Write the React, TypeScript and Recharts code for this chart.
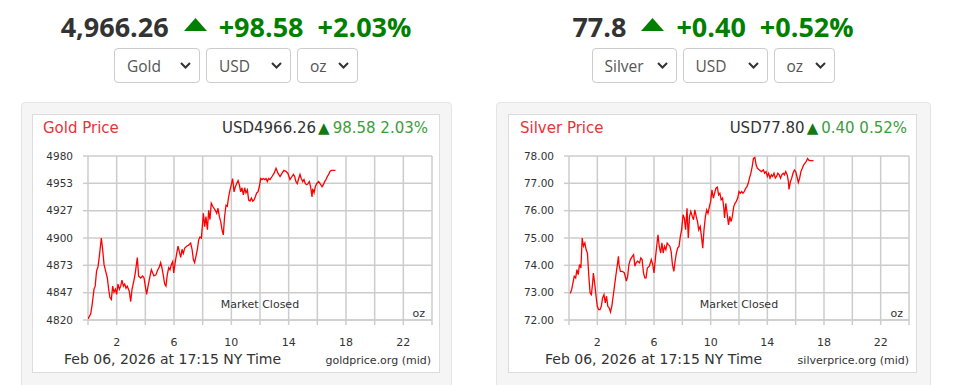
import { LineChart, Line, XAxis, YAxis, CartesianGrid } from 'recharts'

const goldHours = [
  0, 0.19, 0.28, 0.42, 0.5, 0.6, 0.7, 0.79, 0.93, 1.02, 1.12, 1.26, 1.35, 1.44, 1.53, 1.63, 1.72, 1.81, 1.91, 2.0,
  2.09, 2.19, 2.28, 2.37, 2.47, 2.56, 2.65, 2.74, 2.88, 2.98, 3.07, 3.21, 3.3, 3.44, 3.53, 3.67, 3.81, 3.91, 4.0, 4.09,
  4.19, 4.33, 4.42, 4.51, 4.6, 4.74, 4.84, 4.98, 5.07, 5.16, 5.26, 5.35, 5.44, 5.53, 5.63, 5.72, 5.81, 5.91, 5.98, 6.09,
  6.19, 6.28, 6.37, 6.47, 6.56, 6.65, 6.74, 6.88, 7.02, 7.16, 7.26, 7.35, 7.44, 7.53, 7.63, 7.72, 7.81, 7.91, 8.05, 8.14,
  8.23, 8.33, 8.42, 8.51, 8.6, 8.7, 8.79, 8.88, 8.98, 9.07, 9.16, 9.26, 9.35, 9.44, 9.53, 9.63, 9.72, 9.81, 9.91, 10.0,
  10.09, 10.19, 10.28, 10.37, 10.47, 10.56, 10.65, 10.74, 10.84, 10.93, 11.02, 11.12, 11.21, 11.3, 11.4, 11.49, 11.58, 11.67, 11.77, 11.86,
  11.95, 12.05, 12.14, 12.23, 12.33, 12.42, 12.51, 12.6, 12.7, 12.84, 12.98, 13.12, 13.26, 13.4, 13.53, 13.67, 13.81, 13.95, 14.09, 14.23,
  14.33, 14.42, 14.51, 14.6, 14.7, 14.79, 14.88, 14.98, 15.07, 15.16, 15.26, 15.35, 15.44, 15.53, 15.63, 15.67, 15.77, 15.86, 15.95, 16.09,
  16.19, 16.33, 16.42, 16.51, 16.6, 16.7, 16.79, 16.88, 16.98, 17.12, 17.26,
]
const goldPrices = [
  4821, 4826, 4834, 4850, 4853, 4868, 4872, 4882, 4900, 4889, 4874, 4866, 4861, 4850, 4842, 4840, 4853, 4847, 4850, 4845,
  4855, 4850, 4853, 4859, 4853, 4855, 4851, 4853, 4848, 4838, 4850, 4859, 4866, 4881, 4863, 4861, 4863, 4861, 4853, 4845,
  4853, 4863, 4869, 4866, 4863, 4864, 4868, 4872, 4876, 4871, 4863, 4855, 4853, 4864, 4871, 4869, 4874, 4877, 4866, 4877,
  4885, 4892, 4887, 4881, 4889, 4885, 4890, 4892, 4893, 4895, 4889, 4879, 4876, 4882, 4889, 4898, 4901, 4900, 4924, 4911,
  4921, 4908, 4927, 4918, 4934, 4931, 4929, 4927, 4924, 4929, 4921, 4916, 4908, 4903, 4921, 4932, 4931, 4940, 4947, 4952,
  4958, 4945, 4950, 4953, 4956, 4952, 4945, 4949, 4942, 4949, 4944, 4947, 4937, 4936, 4939, 4936, 4937, 4940, 4944, 4945,
  4950, 4958, 4957, 4958, 4957, 4958, 4955, 4958, 4957, 4960, 4963, 4968, 4963, 4960, 4963, 4966, 4965, 4963, 4957, 4960,
  4962, 4960, 4955, 4953, 4958, 4962, 4958, 4955, 4957, 4953, 4952, 4953, 4955, 4950, 4940, 4948, 4944, 4950, 4953, 4955,
  4953, 4950, 4952, 4955, 4957, 4960, 4962, 4965, 4966, 4966, 4966,
]

const silverHours = [
  0.09, 0.19, 0.28, 0.37, 0.47, 0.56, 0.65, 0.74, 0.84, 0.93, 1.02, 1.12, 1.21, 1.3, 1.4, 1.49, 1.58, 1.67, 1.72, 1.81,
  1.91, 2.0, 2.09, 2.19, 2.28, 2.37, 2.47, 2.56, 2.65, 2.74, 2.84, 2.93, 3.02, 3.12, 3.21, 3.3, 3.4, 3.49, 3.53, 3.63,
  3.77, 3.91, 4.05, 4.14, 4.23, 4.33, 4.47, 4.56, 4.65, 4.74, 4.84, 4.98, 5.07, 5.16, 5.26, 5.35, 5.44, 5.53, 5.67, 5.81,
  5.91, 6.0, 6.09, 6.19, 6.28, 6.37, 6.47, 6.56, 6.65, 6.74, 6.84, 6.93, 7.02, 7.12, 7.21, 7.3, 7.4, 7.49, 7.58, 7.67,
  7.77, 7.86, 7.95, 8.05, 8.14, 8.23, 8.33, 8.42, 8.51, 8.6, 8.7, 8.79, 8.88, 8.98, 9.07, 9.16, 9.26, 9.35, 9.44, 9.53,
  9.63, 9.72, 9.81, 9.91, 10.0, 10.09, 10.19, 10.28, 10.37, 10.47, 10.56, 10.65, 10.74, 10.84, 10.93, 10.98, 11.07, 11.16, 11.26, 11.35,
  11.44, 11.53, 11.63, 11.72, 11.81, 11.91, 12.0, 12.09, 12.19, 12.28, 12.37, 12.47, 12.56, 12.65, 12.74, 12.84, 12.93, 13.02, 13.12, 13.21,
  13.3, 13.44, 13.58, 13.72, 13.81, 13.91, 14.0, 14.09, 14.19, 14.28, 14.37, 14.47, 14.56, 14.65, 14.74, 14.84, 14.93, 15.02, 15.12, 15.21,
  15.3, 15.4, 15.49, 15.53, 15.63, 15.72, 15.81, 15.91, 16.0, 16.09, 16.19, 16.28, 16.37, 16.47, 16.56, 16.65, 16.74, 16.84, 16.93, 17.02,
  17.16, 17.26,
]
const silverPrices = [
  72.97, 73.12, 73.36, 73.6, 73.54, 73.84, 73.66, 74.03, 73.9, 75.0, 74.7, 74.82, 74.57, 74.45, 73.6, 72.99, 72.93, 73.36, 73.72, 73.36,
  72.87, 72.5, 72.38, 72.38, 72.5, 72.81, 72.93, 72.63, 72.87, 72.5, 72.44, 72.29, 72.5, 72.87, 73.24, 73.6, 73.97, 74.33, 74.03, 73.78,
  73.78, 73.72, 73.42, 73.6, 74.03, 74.21, 74.33, 74.39, 73.97, 74.09, 74.15, 74.09, 74.27, 74.21, 73.72, 73.54, 73.54, 73.9, 73.97, 74.21,
  74.03, 73.72, 74.21, 74.7, 75.12, 74.7, 74.45, 74.82, 74.45, 74.7, 74.57, 74.82, 74.76, 74.7, 74.51, 74.03, 73.78, 74.15, 74.45, 74.63,
  74.7, 75.06, 75.3, 75.85, 75.73, 75.3, 76.09, 75.0, 75.79, 75.97, 75.79, 75.67, 76.03, 75.79, 75.6, 75.3, 75.42, 75.06, 74.63, 75.3,
  75.79, 76.03, 75.9, 76.15, 76.34, 76.76, 76.46, 76.64, 76.82, 76.86, 76.58, 76.64, 76.4, 76.46, 76.09, 75.73, 76.27, 75.9, 75.48, 75.79,
  75.6, 75.79, 76.15, 76.27, 76.34, 76.46, 76.7, 76.64, 76.7, 76.64, 76.7, 76.82, 76.88, 77.0, 77.19, 77.37, 77.61, 77.91, 77.95, 77.67,
  77.55, 77.49, 77.43, 77.49, 77.37, 77.43, 77.25, 77.37, 77.19, 77.31, 77.25, 77.37, 77.19, 77.25, 77.37, 77.31, 77.19, 77.31, 77.37, 77.31,
  77.43, 77.31, 77.06, 76.78, 77.06, 77.19, 77.37, 77.49, 77.43, 77.25, 77.03, 77.19, 77.43, 77.55, 77.67, 77.73, 77.79, 77.91, 77.85, 77.83,
  77.83, 77.82,
]

const goldTicks = [4820, 4846.67, 4873.33, 4900, 4926.67, 4953.33, 4980]
const silverTicks = [72, 73, 74, 75, 76, 77, 78]
const hourTicks = [0, 2, 4, 6, 8, 10, 12, 14, 16, 18, 20, 22, 24]
const hourLabels = [2, 6, 10, 14, 18, 22]

const chartFont = '"DejaVu Sans", Verdana, sans-serif'
const headFont = '"Open Sans", "Noto Sans", sans-serif'

function Chevron() {
  return (
    <svg width="11" height="7" viewBox="0 0 11 7">
      <polyline points="1,1 5.5,5.5 10,1" fill="none" stroke="#333" strokeWidth="2" />
    </svg>
  )
}

function Select({ label, width }: { label: string; width: number }) {
  return (
    <div
      style={{
        width,
        height: 35,
        boxSizing: 'border-box',
        border: '1px solid #ccc',
        borderRadius: 4,
        display: 'flex',
        alignItems: 'center',
        justifyContent: 'space-between',
        padding: '0 8px 0 12px',
        fontFamily: headFont,
        fontSize: 15.5,
        color: '#555',
        background: '#fff',
      }}
    >
      <span>{label}</span>
      <Chevron />
    </div>
  )
}

function Header({ center, value, change, pct, selects }: any) {
  return (
    <div style={{ position: 'absolute', left: center - 240, top: 0, width: 480 }}>
      <div
        style={{
          position: 'absolute',
          top: 11,
          width: 480,
          display: 'flex',
          justifyContent: 'center',
          alignItems: 'center',
          fontFamily: headFont,
          fontWeight: 700,
          fontSize: 27,
          lineHeight: '31px',
        }}
      >
        <span style={{ color: '#333' }}>{value}</span>
        <svg width="23" height="13" style={{ marginLeft: 15, marginTop: -4 }}>
          <polygon points="0,13 11.5,0 23,13" fill="#008000" />
        </svg>
        <span style={{ color: '#008000', marginLeft: 12 }}>{change}</span>
        <span style={{ color: '#008000', marginLeft: 14 }}>{pct}</span>
      </div>
      <div style={{ position: 'absolute', top: 48, width: 480, display: 'flex', justifyContent: 'center', gap: 6 }}>
        {selects.map((s: [string, number]) => (
          <Select key={s[0]} label={s[0]} width={s[1]} />
        ))}
      </div>
    </div>
  )
}

function PriceCard(props: any) {
  const { panelLeft, panelWidth, left, width, yWidth, title, price, change, fmt, hours, prices, ticks, source, dateX, titleX, headEnd, srcEnd, ozEnd } = props
  const data = hours.map((h: number, i: number) => ({ h, p: prices[i] }))
  const cw = width - 2
  const ch = 257
  const plotRight = cw - 7
  const midX = yWidth + (plotRight - yWidth) / 2
  return (
    <>
      <div
        style={{
          position: 'absolute',
          left: panelLeft,
          top: 102,
          width: panelWidth,
          height: 300,
          boxSizing: 'border-box',
          border: '1px solid #e4e4e4',
          borderRadius: 4,
          background: '#f5f5f5',
        }}
      />
      <div
        style={{
          position: 'absolute',
          left,
          top: 114,
          width,
          height: 259,
          boxSizing: 'border-box',
          border: '1px solid #dcdcdc',
          background: '#fff',
        }}
      >
        <LineChart width={cw} height={ch} data={data} margin={{ top: 41, right: 7, bottom: 0, left: 0 }}>
          <CartesianGrid stroke="#cccccc" strokeWidth={1.5} />
          <XAxis
            dataKey="h"
            type="number"
            domain={[0, 24]}
            ticks={hourTicks}
            interval={0}
            height={52}
            tickSize={5}
            tickMargin={13}
            allowDataOverflow
            axisLine={{ stroke: '#cccccc', strokeWidth: 1.5 }}
            tickLine={{ stroke: '#cccccc', strokeWidth: 1.5 }}
            tick={{ fill: '#333', fontSize: 11, fontFamily: chartFont }}
            tickFormatter={(v: number) => (hourLabels.includes(v) ? String(v) : '')}
          />
          <YAxis
            type="number"
            domain={[ticks[0], ticks[ticks.length - 1]]}
            ticks={ticks}
            interval={0}
            width={yWidth}
            tickSize={5}
            tickMargin={10}
            allowDataOverflow
            axisLine={false}
            tickLine={{ stroke: '#cccccc', strokeWidth: 1.5 }}
            tick={{ fill: '#333', fontSize: 10.5, fontFamily: chartFont }}
            tickFormatter={fmt}
          />
          <Line type="linear" dataKey="p" stroke="#ff0000" strokeWidth={1.3} dot={false} isAnimationActive={false} />
        </LineChart>
        <svg
          width={cw}
          height={ch}
          style={{ position: 'absolute', left: 0, top: 0, pointerEvents: 'none', fontFamily: chartFont }}
        >
          <text x={titleX} y={18} fontSize={15} fill="#e8333a">{title}</text>
          <text x={headEnd} y={18} fontSize={15} textAnchor="end">
            <tspan fill="#333">{price}</tspan>
            <tspan fill="#117a11" fontSize={15} dx={2}>▲</tspan>
            <tspan fill="#3a9d3a" dx={3}>{change}</tspan>
          </text>
          <text x={midX} y={193} fontSize={11} fill="#333" textAnchor="middle">Market Closed</text>
          <text x={ozEnd} y={202} fontSize={11} fill="#333" textAnchor="end">oz</text>
          <text x={dateX} y={249} fontSize={14} fill="#333">Feb 06, 2026 at 17:15 NY Time</text>
          <text x={srcEnd} y={249} fontSize={11} fill="#333" textAnchor="end">{source}</text>
        </svg>
      </div>
    </>
  )
}

export default function App() {
  return (
    <div style={{ position: 'absolute', left: 0, top: 0, width: 958, height: 385, background: '#fff', overflow: 'hidden' }}>
      <Header
        center={236}
        value="4,966.26"
        change="+98.58"
        pct="+2.03%"
        selects={[['Gold', 86], ['USD', 85], ['oz', 61]]}
      />
      <Header
        center={713}
        value="77.8"
        change="+0.40"
        pct="+0.52%"
        selects={[['Silver', 85], ['USD', 85], ['oz', 61]]}
      />
      <PriceCard
        panelLeft={21}
        panelWidth={431}
        left={32}
        width={408}
        yWidth={55}
        title="Gold Price"
        price="USD4966.26"
        change="98.58 2.03%"
        fmt={(v: number) => String(Math.round(v))}
        hours={goldHours}
        prices={goldPrices}
        ticks={goldTicks}
        source="goldprice.org (mid)"
        titleX={10}
        headEnd={395}
        dateX={31}
        srcEnd={398}
        ozEnd={392}
      />
      <PriceCard
        panelLeft={496}
        panelWidth={435}
        left={508}
        width={409}
        yWidth={60}
        title="Silver Price"
        price="USD77.80"
        change="0.40 0.52%"
        fmt={(v: number) => v.toFixed(2)}
        hours={silverHours}
        prices={silverPrices}
        ticks={silverTicks}
        source="silverprice.org (mid)"
        titleX={11}
        headEnd={398}
        dateX={36}
        srcEnd={400}
        ozEnd={394}
      />
    </div>
  )
}
